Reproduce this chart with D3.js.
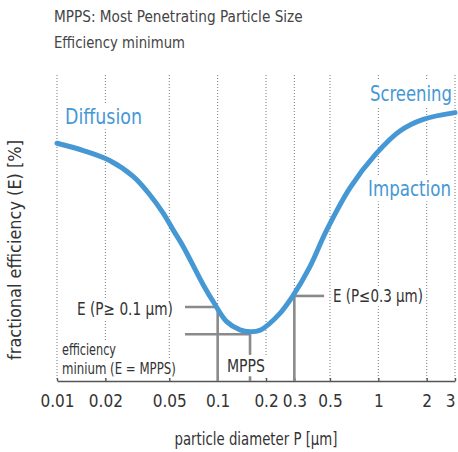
<!DOCTYPE html>
<html>
<head>
<meta charset="utf-8">
<script src="https://cdn.jsdelivr.net/npm/d3@7"></script>
<style>
body { margin: 0; background: #fff; }
text { font-family: "DejaVu Sans Condensed", "Liberation Sans Narrow", "Open Sans", sans-serif; }
</style>
</head>
<body>
<div class="visualize"></div>
<script>
// particle diameter [µm] and fractional efficiency [%]
let diameters  = [0.01, 0.0146, 0.0214, 0.0299, 0.0379, 0.0459, 0.0529, 0.0611, 0.0814, 0.0952, 0.1138, 0.1377,
                  0.1589, 0.1852, 0.2442, 0.2912, 0.3753, 0.472, 0.666, 0.966, 1.363, 1.903, 3];
let efficiency = [77.7, 75.3, 72.0, 66.8, 60.8, 54.8, 49.3, 43.9, 31.4, 25.4, 19.4, 16.7,
                  16.1, 16.7, 22.1, 27.5, 37.4, 48.8, 63.1, 74.2, 81.7, 85.5, 87.7];

let tickValues = [0.01, 0.02, 0.05, 0.1, 0.2, 0.3, 0.5, 1, 2, 3];
let tickLabels = ["0.01", "0.02", "0.05", "0.1", "0.2", "0.3", "0.5", "1", "2", "3"];

// E(P>=0.1), minimum (MPPS), E(P<=0.3)
let markDiameters  = [0.1, 0.159, 0.3];
let markEfficiency = [24.2, 15.3, 27.8];
let markLeftEnd = 0.0626;
let markRightEnd = 0.46;

let w = 458;
let h = 452;
let blue = "#4698d4";

var svg = d3.select(".visualize")
    .append("svg")
    .attr("width", w)
    .attr("height", h);

var x = d3.scaleLog().domain([0.01, 3]).range([57, 455]);
var y = d3.scaleLinear().domain([0, 100]).range([381, 75]);

drawGrid();
drawMarks();
drawCurve();
drawTexts();

function drawGrid(){
    svg.selectAll(".grid")
    .data(tickValues)
    .enter()
    .append("line")
    .attr("class", "grid")
    .attr("x1", d => x(d))
    .attr("x2", d => x(d))
    .attr("y1", y(100))
    .attr("y2", y(0))
    .attr("stroke", "#777")
    .attr("stroke-width", 1)
    .attr("stroke-dasharray", "1,2");

    var axis = d3.axisBottom(x)
        .tickValues(tickValues)
        .tickFormat((d, i) => tickLabels[i])
        .tickSizeInner(-3)
        .tickSizeOuter(0)
        .tickPadding(14);

    var g = svg.append("g")
        .attr("transform", "translate(0," + y(0) + ")")
        .call(axis);
    g.select(".domain").attr("stroke", "#555").attr("stroke-width", 1.6);
    g.selectAll(".tick line").attr("stroke", "#555").attr("stroke-width", 1.4);
    g.selectAll(".tick text")
        .attr("font-size", "17px")
        .attr("fill", "#333")
        .style("font-family", null);
    // last label kept inside the picture
    g.selectAll(".tick text").filter(d => d == 3).attr("dx", -5);
}

function drawMarks(){
    var grey = "#8a8a8a";
    // horizontal lines from the left to the point on the curve
    svg.selectAll(".hmark")
    .data([0, 1])
    .enter()
    .append("line")
    .attr("x1", x(markLeftEnd))
    .attr("x2", i => x(markDiameters[i]))
    .attr("y1", i => y(markEfficiency[i]))
    .attr("y2", i => y(markEfficiency[i]))
    .attr("stroke", grey)
    .attr("stroke-width", 2.6);

    svg.append("line")
    .attr("x1", x(markDiameters[2]))
    .attr("x2", x(markRightEnd))
    .attr("y1", y(markEfficiency[2]))
    .attr("y2", y(markEfficiency[2]))
    .attr("stroke", grey)
    .attr("stroke-width", 2.6);

    svg.selectAll(".vmark")
    .data([0, 1, 2])
    .enter()
    .append("line")
    .attr("x1", i => x(markDiameters[i]))
    .attr("x2", i => x(markDiameters[i]))
    .attr("y1", i => y(markEfficiency[i]))
    .attr("y2", y(0))
    .attr("stroke", grey)
    .attr("stroke-width", 2.6);
}

function drawCurve(){
    var line = d3.line()
        .x((d, i) => x(diameters[i]))
        .y(d => y(d))
        .curve(d3.curveCatmullRom.alpha(0.5));

    svg.append("path")
    .attr("d", line(efficiency))
    .attr("fill", "none")
    .attr("stroke", blue)
    .attr("stroke-width", 5)
    .attr("stroke-linecap", "round");
}

// text squeezed horizontally to the width it has in the picture,
// white box behind when bg
function label(px, py, str, size, len, color, anchor, bg, rot){
    var t = svg.append("text")
        .attr("x", 0)
        .attr("y", 0)
        .attr("font-size", size + "px")
        .attr("fill", color)
        .attr("text-anchor", anchor || "start")
        .text(str);
    var k = len / t.node().getComputedTextLength();
    var tr = "translate(" + px + "," + py + ")" + (rot ? " rotate(" + rot + ")" : "") + " scale(" + k + ",1)";
    t.attr("transform", tr);
    if(bg){
        var b = t.node().getBBox();
        svg.insert("rect", function(){ return t.node(); })
        .attr("x", b.x - 2 / k)
        .attr("y", b.y)
        .attr("width", b.width + 4 / k)
        .attr("height", b.height)
        .attr("transform", tr)
        .attr("fill", "#fff");
    }
    return t;
}

function drawTexts(){
    label(54, 22, "MPPS: Most Penetrating Particle Size", 16, 249, "#444");
    label(54, 48, "Efficiency minimum", 16, 131, "#444");

    label(65, 124, "Diffusion", 22, 77, blue, "start", true);
    label(370, 101, "Screening", 22, 82, blue, "start", true);
    label(368, 196, "Impaction", 22, 83, blue, "start", true);

    label(77, 315, "E (P\u2265 0.1 \u00b5m)", 17, 96, "#333", "start", true);
    label(333, 302, "E (P\u22640.3 \u00b5m)", 17, 90, "#333", "start", true);
    label(62, 355, "efficiency", 15, 54, "#333", "start", true);
    label(62, 374, "minium (E = MPPS)", 15, 114, "#333", "start", true);
    label(227, 372, "MPPS", 18, 38, "#333", "start", true);

    label(256, 445, "particle diameter P [\u00b5m]", 18, 163, "#333", "middle");
    label(21, 250, "fractional efficiency (E) [%]", 17, 220, "#333", "middle", false, -90);
}
</script>
</body>
</html>
